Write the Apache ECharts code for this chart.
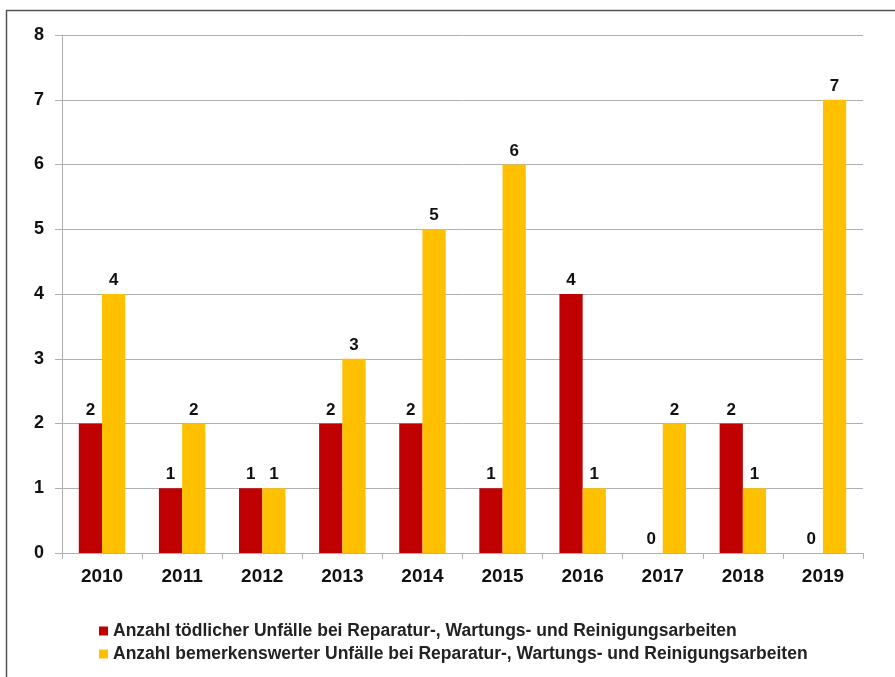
<!DOCTYPE html>
<html><head><meta charset="utf-8">
<script src="https://cdn.jsdelivr.net/npm/echarts@6/dist/echarts.min.js"></script>
<style>html,body{margin:0;padding:0;background:#fff}#c{width:895px;height:677px}</style>
</head><body><div id="c"></div>
<script>
const years = ['2010','2011','2012','2013','2014','2015','2016','2017','2018','2019'];
const fatal = [2,1,1,2,2,1,4,0,2,0];
const notable = [4,2,1,3,5,6,1,2,1,7];
const seriesNames = ['Anzahl tödlicher Unfälle bei Reparatur-, Wartungs- und Reinigungsarbeiten','Anzahl bemerkenswerter Unfälle bei Reparatur-, Wartungs- und Reinigungsarbeiten'];
const yTicks = [0,1,2,3,4,5,6,7,8];
const font = 'Liberation Sans, Arial, sans-serif';
const chart = echarts.init(document.getElementById('c'));
const lbl = {show:true, position:'top', color:'#111', fontWeight:'bold', fontSize:17, fontFamily:font, distance:5};
chart.setOption({
  animation:false,
  graphic:[{type:'rect', shape:{x:6.5,y:10.5,width:900,height:700}, style:{fill:'none', stroke:'#555', lineWidth:1.5}, silent:true}],
  grid:{left:62, right:32, top:35, bottom:124},
  legend:{orient:'vertical', left:94, top:617, itemWidth:9, itemHeight:9, itemGap:5, icon:'rect',
    textStyle:{fontFamily:font, fontSize:17.5, fontWeight:'bold', color:'#222'}},
  xAxis:{type:'category', data:years,
    axisLine:{lineStyle:{color:'#b0b0b0', width:1}},
    axisTick:{show:true, length:6, lineStyle:{color:'#b0b0b0'}},
    axisLabel:{fontFamily:font, fontSize:19, fontWeight:'bold', color:'#111', margin:14}},
  yAxis:{type:'value', min:yTicks[0], max:yTicks[yTicks.length-1], interval:1,
    axisLine:{show:true, lineStyle:{color:'#b0b0b0'}},
    axisTick:{show:true, length:7, lineStyle:{color:'#b0b0b0'}},
    splitLine:{lineStyle:{color:'#b0b0b0'}},
    axisLabel:{fontFamily:font, fontSize:18, fontWeight:'bold', color:'#111', margin:18}},
  series:[
    {name:seriesNames[0], type:'bar', data:fatal, itemStyle:{color:'#C00000'}, barGap:'0%', barCategoryGap:'42%', label:lbl},
    {name:seriesNames[1], type:'bar', data:notable, itemStyle:{color:'#FFC000'}, barGap:'0%', barCategoryGap:'42%', label:lbl}
  ]
});
</script></body></html>
